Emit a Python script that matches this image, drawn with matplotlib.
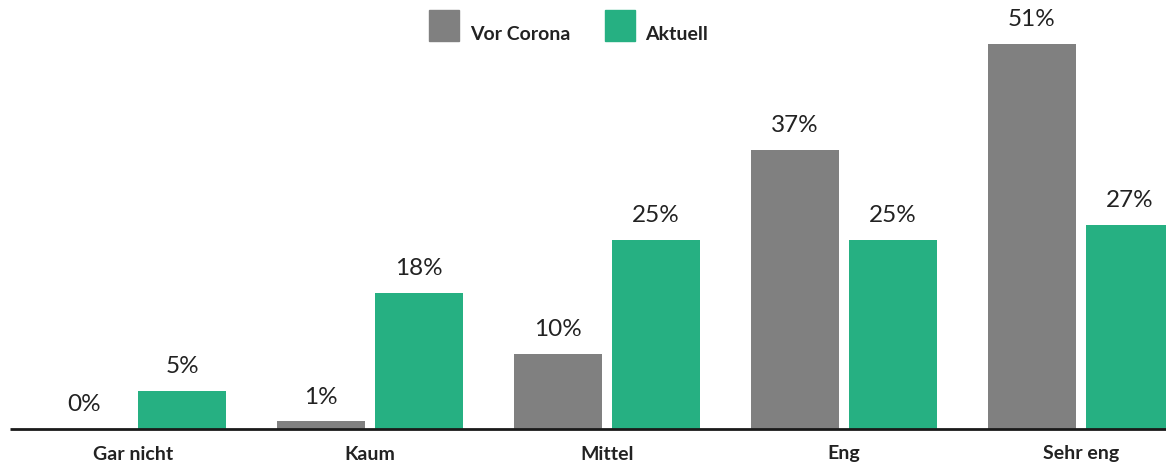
import numpy as np
import matplotlib.pyplot as plt
from matplotlib.patches import Rectangle

# Data
categories = ["Gar nicht", "Kaum", "Mittel", "Eng", "Sehr eng"]
vor_corona = [0, 1, 10, 37, 51]
aktuell = [5, 18, 25, 25, 27]
series_names = ["Vor Corona", "Aktuell"]

gray = "#808080"
green = "#26B082"
txt = "#222222"

plt.rcParams["font.family"] = ["Lato", "DejaVu Sans"]

W, H = 1166, 466
fig = plt.figure(figsize=(W / 100, H / 100), dpi=100)
base_px = 37  # baseline height from bottom in px
ax = fig.add_axes([0, base_px / H, 1, (H - base_px) / H])

x = np.arange(len(categories))
bw = 88 / 237
off = 49 / 237
b1 = ax.bar(x - off, vor_corona, bw, color=gray)
b2 = ax.bar(x + off, aktuell, bw, color=green)

for bars, vals in [(b1, vor_corona), (b2, aktuell)]:
    for r, v in zip(bars, vals):
        ax.annotate(f"{v}%", (r.get_x() + r.get_width() / 2, v),
                    xytext=(0, 10), textcoords="offset points",
                    ha="center", va="bottom", fontsize=17.5, color=txt)

ax.set_xlim(-133 / 237, (W - 133) / 237)
ax.set_ylim(0, (H - base_px) / 7.55)
ax.axis("off")
ax.plot([-123 / 237, (W - 133) / 237], [0, 0], color="#1a1a1a", lw=2,
        clip_on=False, solid_capstyle="butt")

for xi, c in zip(x, categories):
    ax.annotate(c, (xi, 0), xytext=(0, -18), textcoords="offset points",
                ha="center", va="center", fontsize=14, fontweight="bold",
                color=txt)

# legend
for (x0, tx), name, col in zip([(429, 470), (605, 645)], series_names, [gray, green]):
    fig.add_artist(Rectangle((x0 / W, 1 - 41 / H), 30 / W, 31 / H,
                             transform=fig.transFigure, color=col))
    fig.text(tx / W, 1 - 40 / H, name, ha="left", va="baseline",
             fontsize=14, fontweight="bold", color=txt)

fig.savefig("out.png", dpi=100)
